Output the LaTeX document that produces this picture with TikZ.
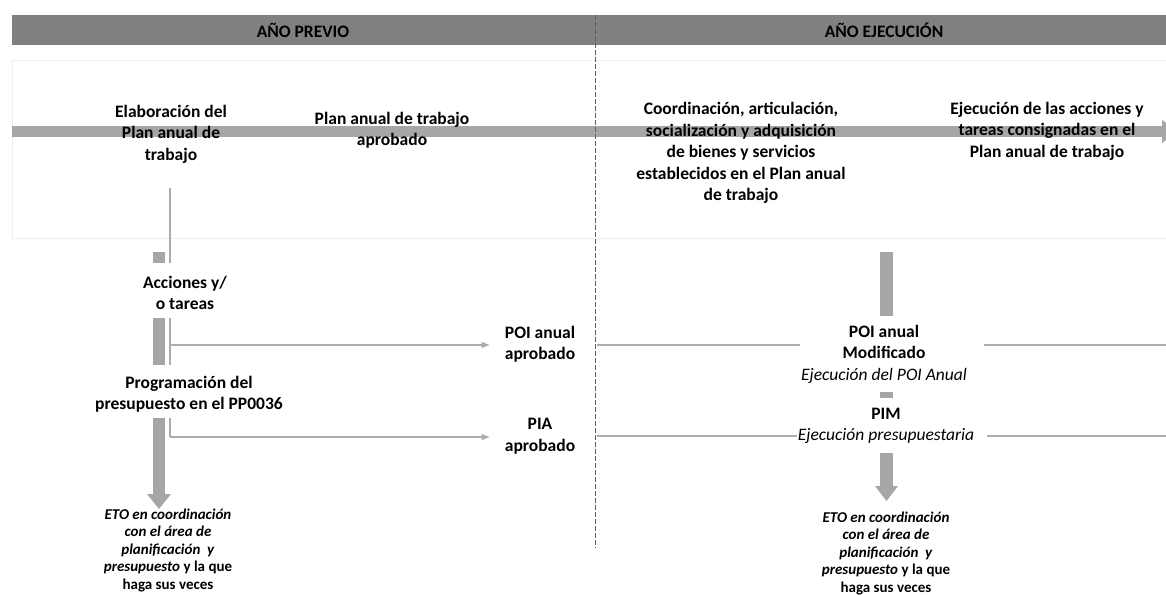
\documentclass[tikz,border=0pt]{standalone}
\usepackage{fontspec}
\setmainfont{Carlito}
\usepackage{tikz}
\usetikzlibrary{arrows.meta,positioning,calc}
\definecolor{headGray}{RGB}{128,128,128}
\definecolor{flowGray}{RGB}{166,166,166}
\definecolor{lineGray}{RGB}{172,172,172}
\definecolor{boxGray}{RGB}{238,238,238}
\definecolor{dashGray}{RGB}{95,95,95}

\begin{document}
\begin{tikzpicture}[x=1pt, y=-1pt,
    txt/.style={font=\fontsize{17.5}{21.5}\selectfont\bfseries, align=center, inner sep=1pt},
    notetxt/.style={font=\fontsize{15}{17.5}\selectfont\bfseries, align=center, inner sep=1pt},
    thinline/.style={draw=lineGray, line width=1.2pt},
    thinarrow/.style={thinline, -{Triangle[length=8pt, width=6pt]}},
    flowbar/.style={fill=flowGray}]
        % Page frame
        \useasboundingbox (0,0) rectangle (1166,594);
        \clip (0,0) rectangle (1166,594);
        % Header bar
        \fill[headGray] (12,15) rectangle (1166,45);
        \node[txt] (prev) at (303,30) {AÑO PREVIO};
        \node[txt] (ejec) at (884,30) {AÑO EJECUCIÓN};
        % Planning box and main time arrow
        \draw[boxGray, fill=white] (12,60) rectangle (1172,238);
        \fill[flowGray] (12,126) rectangle (1162,137);
        \fill[flowGray] (1162,120) -- (1178,131.5) -- (1162,143) -- cycle;
        % Year divider
        \draw[dashGray, line width=0.8pt, dash pattern=on 5pt off 2pt] (595,15) -- (595,548);
        % Texts on the time arrow
        \node[txt] (elab) at (171,134) {Elaboración del\\Plan anual de\\trabajo};
        \node[txt] (planapr) at (392,130) {Plan anual de trabajo\\aprobado};
        \node[txt] (coord) at (741,153) {Coordinación, articulación,\\socialización y adquisición\\de bienes y servicios\\establecidos en el Plan anual\\de trabajo};
        \node[txt] (ejecacc) at (1047,131) {Ejecución de las acciones y\\tareas consignadas en el\\Plan anual de trabajo};
        % Previous year column
        \node[txt] (acc) at (185,293) {Acciones y/\\o tareas};
        \node[txt] (prog) at (189,394) {Programación del\\presupuesto en el PP0036};
        \node[notetxt] (etoL) at (168,550) {\textit{ETO en coordinación}\\\textit{con el área de}\\\textit{planificación\ \ y}\\\textit{presupuesto} y la que\\haga sus veces};
        \node[txt] (poiapr) at (540,344) {POI anual\\aprobado};
        \node[txt] (piaapr) at (540,436) {PIA\\aprobado};
        % Execution year column
        \node[txt] (poimod) at (884,354) {POI anual\\Modificado\\{\mdseries\itshape Ejecución del POI Anual}};
        \node[txt] (pim) at (886,426) {PIM\\{\mdseries\itshape Ejecución presupuestaria}};
        \node[notetxt] (etoR) at (886,553) {\textit{ETO en coordinación}\\\textit{con el área de}\\\textit{planificación\ \ y}\\\textit{presupuesto} y la que\\haga sus veces};
        % Thick flow bars, left
        \fill[flowbar] (153,252) rectangle (165,263);
        \fill[flowbar] (153,318) rectangle (165,365);
        \fill[flowbar] (153,418) rectangle (165,494);
        \fill[flowbar] (147,494) -- (171,494) -- (159,509) -- cycle;
        % Thick flow bars, right
        \fill[flowbar] (880,252) rectangle (893,316);
        \fill[flowbar] (880,392) rectangle (893,398);
        \fill[flowbar] (880,453) rectangle (893,486);
        \fill[flowbar] (875,486) -- (898,486) -- (886.5,501) -- cycle;
        % Thin connectors, left
        \coordinate (elabfoot) at (170,188);
        \coordinate (accknee) at (170,263);
        \coordinate (poiknee) at (170,345);
        \coordinate (piaknee) at (170,437);
        \draw[thinline] (elabfoot) -- (accknee);
        \draw[thinline] (170,318) -- (170,365);
        \draw[thinline] (170,418) -- (piaknee);
        \draw[thinarrow, shorten >=14pt] (poiknee) -- (poiknee -| poiapr.west);
        \draw[thinarrow, shorten >=14pt] (piaknee) -- (piaknee -| piaapr.west);
        % Thin connectors, right
        \coordinate (poiedge) at (1166,345);
        \coordinate (pimedge) at (1166,436);
        \draw[thinline] (597,345) -- (poimod.west |- poiedge);
        \draw[thinline] ($(poimod.east |- poiedge)+(16,0)$) -- (poiedge);
        \draw[thinline] (597,436) -- (pim.west |- pimedge);
        \draw[thinline] ($(pim.east |- pimedge)+(12,0)$) -- (pimedge);
\end{tikzpicture}
\end{document}
